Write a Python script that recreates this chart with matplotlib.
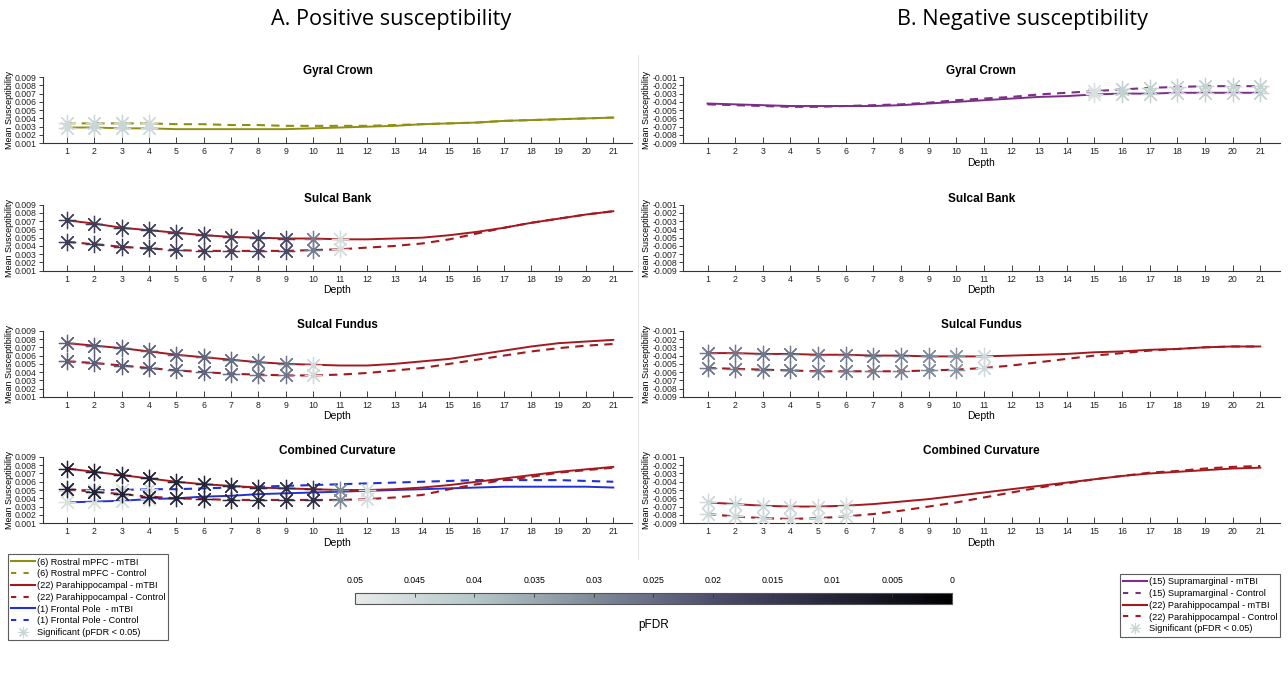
"""
Mean susceptibility vs depth: positive (A) and negative (B) susceptibility
"""
import numpy as np
import matplotlib
import matplotlib.pyplot as plt
from matplotlib.lines import Line2D
from matplotlib.colors import LinearSegmentedColormap, Normalize
from matplotlib.cm import ScalarMappable

plt.rcParams['font.family'] = ['Liberation Sans', 'DejaVu Sans']

depth = list(range(1, 22))

# ---- A. Positive susceptibility ----
pos_crown_mpfc_tbi = [0.0029, 0.0029, 0.0028, 0.0028, 0.0027, 0.0027, 0.0027, 0.0027, 0.0027, 0.0028, 0.0029,
                      0.0030, 0.0031, 0.0033, 0.0034, 0.0035, 0.0037, 0.0038, 0.0039, 0.0040, 0.0041]
pos_crown_mpfc_ctl = [0.0034, 0.0034, 0.0034, 0.0034, 0.0033, 0.0033, 0.0032, 0.0032, 0.0031, 0.0031, 0.0031,
                      0.0031, 0.0032, 0.0033, 0.0034, 0.0035, 0.0037, 0.0038, 0.0039, 0.0040, 0.0041]
pos_crown_sig_depth = [1, 2, 3, 4]
pos_crown_sig_p = [0.045, 0.044, 0.044, 0.045]

pos_bank_para_tbi = [0.0071, 0.0067, 0.0062, 0.0059, 0.0056, 0.0053, 0.0051, 0.0050, 0.0049, 0.0049, 0.0048,
                     0.0048, 0.0049, 0.0050, 0.0053, 0.0057, 0.0062, 0.0068, 0.0073, 0.0078, 0.0082]
pos_bank_para_ctl = [0.0045, 0.0042, 0.0039, 0.0037, 0.0035, 0.0034, 0.0034, 0.0034, 0.0034, 0.0035, 0.0036,
                     0.0038, 0.0040, 0.0043, 0.0048, 0.0055, 0.0062, 0.0068, 0.0073, 0.0078, 0.0082]
pos_bank_sig_depth = [1, 2, 3, 4, 5, 6, 7, 8, 9, 10, 11]
pos_bank_sig_p = [0.016, 0.016, 0.016, 0.016, 0.017, 0.017, 0.018, 0.018, 0.019, 0.028, 0.046]

pos_fundus_para_tbi = [0.0075, 0.0072, 0.0069, 0.0065, 0.0061, 0.0058, 0.0055, 0.0052, 0.0050, 0.0049, 0.0048,
                       0.0048, 0.0050, 0.0053, 0.0056, 0.0061, 0.0066, 0.0071, 0.0075, 0.0077, 0.0079]
pos_fundus_para_ctl = [0.0053, 0.0051, 0.0048, 0.0045, 0.0042, 0.0040, 0.0038, 0.0037, 0.0036, 0.0036, 0.0037,
                       0.0039, 0.0042, 0.0045, 0.0050, 0.0055, 0.0060, 0.0065, 0.0069, 0.0072, 0.0074]
pos_fundus_sig_depth = [1, 2, 3, 4, 5, 6, 7, 8, 9, 10]
pos_fundus_sig_p = [0.023, 0.023, 0.023, 0.023, 0.024, 0.024, 0.025, 0.026, 0.027, 0.045]

pos_comb_para_tbi = [0.0076, 0.0072, 0.0068, 0.0064, 0.0060, 0.0057, 0.0055, 0.0053, 0.0052, 0.0051, 0.0050,
                     0.0050, 0.0051, 0.0053, 0.0056, 0.0060, 0.0064, 0.0068, 0.0072, 0.0075, 0.0078]
pos_comb_para_ctl = [0.0051, 0.0048, 0.0045, 0.0042, 0.0040, 0.0039, 0.0038, 0.0038, 0.0038, 0.0038, 0.0038,
                     0.0039, 0.0041, 0.0044, 0.0051, 0.0057, 0.0062, 0.0066, 0.0071, 0.0074, 0.0077]
pos_comb_fp_tbi = [0.0035, 0.0036, 0.0037, 0.0039, 0.0040, 0.0042, 0.0043, 0.0045, 0.0046, 0.0047, 0.0048,
                   0.0049, 0.0050, 0.0051, 0.0052, 0.0053, 0.0054, 0.0054, 0.0054, 0.0054, 0.0053]
pos_comb_fp_ctl = [0.0049, 0.0050, 0.0050, 0.0051, 0.0051, 0.0052, 0.0053, 0.0054, 0.0055, 0.0056, 0.0057,
                   0.0058, 0.0059, 0.0060, 0.0061, 0.0062, 0.0062, 0.0062, 0.0062, 0.0061, 0.0060]
pos_comb_para_sig_depth = [1, 2, 3, 4, 5, 6, 7, 8, 9, 10, 11, 12]
pos_comb_para_sig_p = [0.009, 0.009, 0.009, 0.009, 0.010, 0.010, 0.011, 0.011, 0.012, 0.013, 0.030, 0.046]
pos_comb_fp_sig_depth = [1, 2, 3, 4]
pos_comb_fp_sig_p = [0.047, 0.047, 0.046, 0.046]

# ---- B. Negative susceptibility ----
neg_crown_smg_tbi = [-0.0042, -0.0043, -0.0044, -0.0045, -0.0045, -0.0045, -0.0045, -0.0044, -0.0042, -0.0040, -0.0038,
                     -0.0036, -0.0034, -0.0033, -0.0031, -0.0030, -0.0030, -0.0029, -0.0029, -0.0029, -0.0029]
neg_crown_smg_ctl = [-0.0043, -0.0044, -0.0045, -0.0046, -0.0046, -0.0045, -0.0044, -0.0043, -0.0041, -0.0038, -0.0036,
                     -0.0034, -0.0031, -0.0029, -0.0027, -0.0025, -0.0023, -0.0022, -0.0021, -0.0021, -0.0021]
neg_crown_sig_depth = [15, 16, 17, 18, 19, 20, 21]
neg_crown_sig_p = [0.047, 0.043, 0.043, 0.043, 0.043, 0.043, 0.043]

neg_fundus_para_tbi = [-0.0037, -0.0037, -0.0038, -0.0038, -0.0039, -0.0039, -0.0040, -0.0040, -0.0041, -0.0041, -0.0041,
                       -0.0040, -0.0039, -0.0038, -0.0036, -0.0035, -0.0033, -0.0032, -0.0030, -0.0029, -0.0029]
neg_fundus_para_ctl = [-0.0055, -0.0056, -0.0057, -0.0058, -0.0059, -0.0059, -0.0059, -0.0059, -0.0058, -0.0057, -0.0055,
                       -0.0052, -0.0048, -0.0044, -0.0040, -0.0037, -0.0034, -0.0032, -0.0030, -0.0029, -0.0029]
neg_fundus_sig_depth = [1, 2, 3, 4, 5, 6, 7, 8, 9, 10, 11]
neg_fundus_sig_p = [0.027, 0.027, 0.027, 0.027, 0.028, 0.028, 0.028, 0.029, 0.030, 0.032, 0.045]

neg_comb_para_tbi = [-0.0065, -0.0067, -0.0069, -0.0070, -0.0070, -0.0069, -0.0067, -0.0064, -0.0061, -0.0057, -0.0053,
                     -0.0049, -0.0045, -0.0041, -0.0037, -0.0033, -0.0030, -0.0028, -0.0026, -0.0024, -0.0023]
neg_comb_para_ctl = [-0.0079, -0.0082, -0.0084, -0.0085, -0.0084, -0.0082, -0.0079, -0.0075, -0.0070, -0.0065, -0.0059,
                     -0.0053, -0.0047, -0.0042, -0.0037, -0.0033, -0.0029, -0.0027, -0.0024, -0.0022, -0.0021]
neg_comb_sig_depth = [1, 2, 3, 4, 5, 6]
neg_comb_sig_p = [0.045, 0.045, 0.045, 0.045, 0.046, 0.046]

pos_yticks = [0.001, 0.002, 0.003, 0.004, 0.005, 0.006, 0.007, 0.008, 0.009]
neg_yticks = [-0.009, -0.008, -0.007, -0.006, -0.005, -0.004, -0.003, -0.002, -0.001]
pfdr_ticks = [0.05, 0.045, 0.04, 0.035, 0.03, 0.025, 0.02, 0.015, 0.01, 0.005, 0]
pfdr_labels = ['0.05', '0.045', '0.04', '0.035', '0.03', '0.025', '0.02', '0.015', '0.01', '0.005', '0']

OLIVE = '#8f8f12'
RED = '#a3191e'
BLUE = '#2231d6'
PURPLE = '#7a2e86'

# pFDR colormap: 0 -> black, 0.05 -> light grey
cmap = LinearSegmentedColormap.from_list('pfdr', [
    (0.0, '#000000'), (0.2, '#26263a'), (0.4, '#4e4e6c'), (0.6, '#7f8a99'),
    (0.8, '#b5c7c7'), (1.0, '#e8eaea')])
norm = Normalize(0, 0.05)

STAR = (8, 2, 0)


def setup_axes(ax, yticks, title, xlabel=True):
    ax.set_xlim(0.1, 21.7)
    ax.set_ylim(min(yticks), max(yticks))
    ax.set_xticks(depth)
    ax.set_yticks(yticks)
    ax.set_yticklabels(['%.3f' % v for v in yticks])
    ax.tick_params(labelsize=6.3, direction='in', length=4, width=0.6, colors='#222222', pad=3)
    ax.tick_params(axis='y', direction='out', length=3, pad=1)
    for s in ['top', 'right']:
        ax.spines[s].set_visible(False)
    for s in ['left', 'bottom']:
        ax.spines[s].set_linewidth(0.8)
        ax.spines[s].set_color('#333333')
    ax.set_ylabel('Mean Susceptibility', fontsize=6.5, labelpad=1)
    if xlabel:
        ax.set_xlabel('Depth', fontsize=7.5, labelpad=1)
    ax.set_title(title, fontsize=8.5, fontweight='bold', pad=2)
    ax.patch.set_alpha(0)


def plot_pair(ax, tbi, ctl, color):
    ax.plot(depth, tbi, '-', color=color, lw=1.4, zorder=2)
    ax.plot(depth, ctl, '--', color=color, lw=1.5, dashes=(4, 3), zorder=2)


def plot_sig(ax, sig_depth, sig_p, curves):
    cols = cmap(norm(np.array(sig_p)))
    for curve in curves:
        ys = [curve[d - 1] for d in sig_depth]
        for x, y, c in zip(sig_depth, ys, cols):
            ax.plot(x, y, marker=STAR, ms=12.5, mew=0.9, mec=c, mfc='none', ls='none', zorder=3)


fig = plt.figure(figsize=(12.88, 6.82), dpi=100)

lx, lw = 0.033, 0.458
rx, rw = 0.530, 0.4635
bottoms = [0.790, 0.603, 0.418, 0.233]
h = 0.097

# left column
ax = fig.add_axes([lx, bottoms[0], lw, h])
setup_axes(ax, pos_yticks, 'Gyral Crown', xlabel=False)
plot_pair(ax, pos_crown_mpfc_tbi, pos_crown_mpfc_ctl, OLIVE)
plot_sig(ax, pos_crown_sig_depth, pos_crown_sig_p, [pos_crown_mpfc_tbi, pos_crown_mpfc_ctl])

ax = fig.add_axes([lx, bottoms[1], lw, h])
setup_axes(ax, pos_yticks, 'Sulcal Bank')
plot_pair(ax, pos_bank_para_tbi, pos_bank_para_ctl, RED)
plot_sig(ax, pos_bank_sig_depth, pos_bank_sig_p, [pos_bank_para_tbi, pos_bank_para_ctl])

ax = fig.add_axes([lx, bottoms[2], lw, h])
setup_axes(ax, pos_yticks, 'Sulcal Fundus')
plot_pair(ax, pos_fundus_para_tbi, pos_fundus_para_ctl, RED)
plot_sig(ax, pos_fundus_sig_depth, pos_fundus_sig_p, [pos_fundus_para_tbi, pos_fundus_para_ctl])

ax = fig.add_axes([lx, bottoms[3], lw, h])
setup_axes(ax, pos_yticks, 'Combined Curvature')
plot_pair(ax, pos_comb_fp_tbi, pos_comb_fp_ctl, BLUE)
plot_pair(ax, pos_comb_para_tbi, pos_comb_para_ctl, RED)
plot_sig(ax, pos_comb_fp_sig_depth, pos_comb_fp_sig_p, [pos_comb_fp_tbi, pos_comb_fp_ctl])
plot_sig(ax, pos_comb_para_sig_depth, pos_comb_para_sig_p, [pos_comb_para_tbi, pos_comb_para_ctl])

# right column
ax = fig.add_axes([rx, bottoms[0], rw, h])
setup_axes(ax, neg_yticks, 'Gyral Crown')
plot_pair(ax, neg_crown_smg_tbi, neg_crown_smg_ctl, PURPLE)
plot_sig(ax, neg_crown_sig_depth, neg_crown_sig_p, [neg_crown_smg_tbi, neg_crown_smg_ctl])

ax = fig.add_axes([rx, bottoms[1], rw, h])
setup_axes(ax, neg_yticks, 'Sulcal Bank')

ax = fig.add_axes([rx, bottoms[2], rw, h])
setup_axes(ax, neg_yticks, 'Sulcal Fundus')
plot_pair(ax, neg_fundus_para_tbi, neg_fundus_para_ctl, RED)
plot_sig(ax, neg_fundus_sig_depth, neg_fundus_sig_p, [neg_fundus_para_tbi, neg_fundus_para_ctl])

ax = fig.add_axes([rx, bottoms[3], rw, h])
setup_axes(ax, neg_yticks, 'Combined Curvature')
plot_pair(ax, neg_comb_para_tbi, neg_comb_para_ctl, RED)
plot_sig(ax, neg_comb_sig_depth, neg_comb_sig_p, [neg_comb_para_tbi, neg_comb_para_ctl])

# headers
fig.text(0.304, 0.972, 'A. Positive susceptibility', ha='center', va='center', fontsize=15.6,
         family=['Open Sans', 'DejaVu Sans'])
fig.text(0.794, 0.972, 'B. Negative susceptibility', ha='center', va='center', fontsize=15.6,
         family=['Open Sans', 'DejaVu Sans'])

# faint divider between the two halves
fig.add_artist(Line2D([0.4955, 0.4955], [0.18, 0.92], color='#e6e6e6', lw=0.8))


# legends
def dash_handle(color, label, ls):
    if ls == '--':
        return Line2D([], [], color=color, lw=1.5, ls='--', dashes=(2.5, 3.5), label=label)
    return Line2D([], [], color=color, lw=1.5, ls='-', label=label)


sig_handle = Line2D([], [], marker=STAR, ms=8, mew=0.8, mec='#c9d4d6', ls='none',
                    label='Significant (pFDR < 0.05)')

left_handles = [
    dash_handle(OLIVE, '(6) Rostral mPFC - mTBI', '-'),
    dash_handle(OLIVE, '(6) Rostral mPFC - Control', '--'),
    dash_handle(RED, '(22) Parahippocampal - mTBI', '-'),
    dash_handle(RED, '(22) Parahippocampal - Control', '--'),
    dash_handle(BLUE, '(1) Frontal Pole  - mTBI', '-'),
    dash_handle(BLUE, '(1) Frontal Pole - Control', '--'),
    sig_handle,
]
right_handles = [
    dash_handle(PURPLE, '(15) Supramarginal - mTBI', '-'),
    dash_handle(PURPLE, '(15) Supramarginal - Control', '--'),
    dash_handle(RED, '(22) Parahippocampal - mTBI', '-'),
    dash_handle(RED, '(22) Parahippocampal - Control', '--'),
    sig_handle,
]
leg_kw = dict(fontsize=6.6, frameon=True, fancybox=False, handlelength=2.6, handletextpad=0.2,
              labelspacing=0.3, borderpad=0.35, borderaxespad=0)
leg1 = fig.legend(handles=left_handles, loc='upper left', bbox_to_anchor=(0.006, 0.187), **leg_kw)
leg2 = fig.legend(handles=right_handles, loc='upper right', bbox_to_anchor=(0.994, 0.158), **leg_kw)
for leg in (leg1, leg2):
    leg.get_frame().set_edgecolor('#333333')
    leg.get_frame().set_linewidth(0.8)

# pFDR colour bar
cax = fig.add_axes([0.2756, 0.1144, 0.4635, 0.016])
cb = fig.colorbar(ScalarMappable(norm=norm, cmap=cmap), cax=cax, orientation='horizontal')
cax.set_xlim(0.05, 0)
cb.set_ticks(pfdr_ticks)
cb.set_ticklabels(pfdr_labels)
cax.xaxis.set_ticks_position('top')
cax.tick_params(labelsize=6.3, direction='in', length=3, width=0.6, pad=6, color='#333333')
cb.outline.set_linewidth(0.8)
cb.outline.set_edgecolor('#555555')
fig.text(0.5075, 0.083, 'pFDR', ha='center', va='center', fontsize=8.5)

fig.savefig('out.png', dpi=100)
